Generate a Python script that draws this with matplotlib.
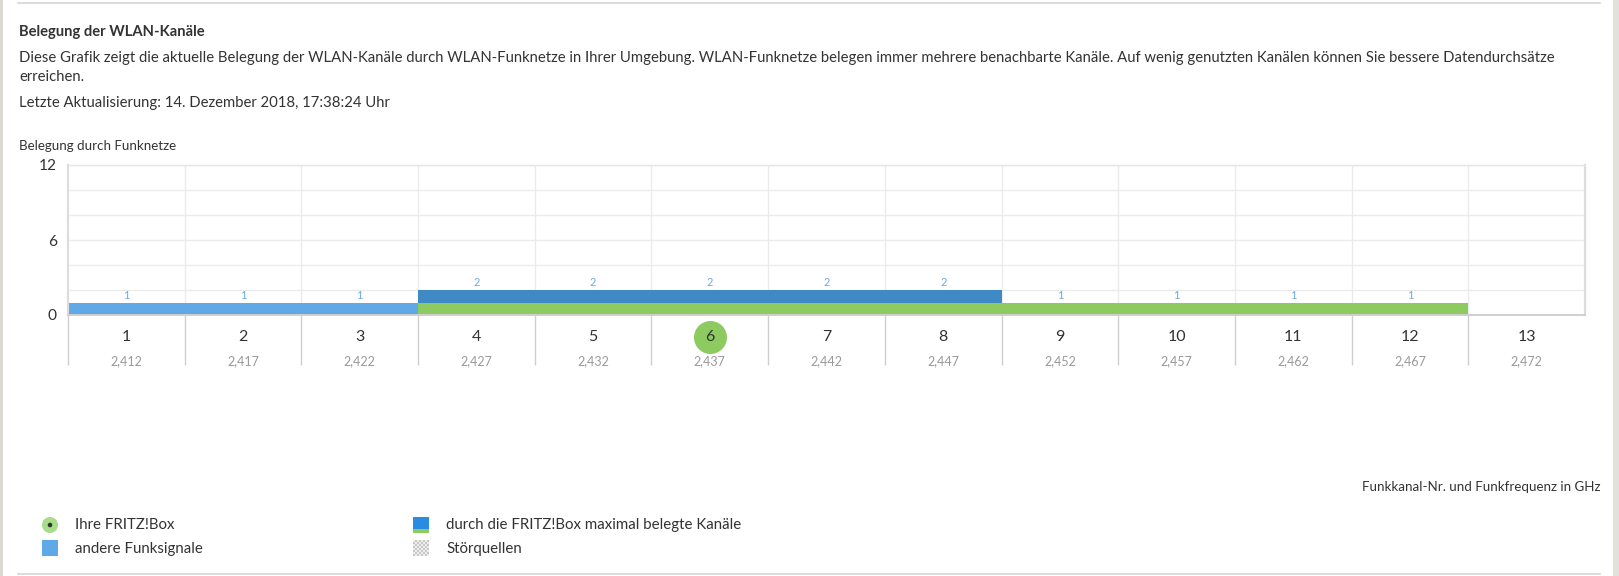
import matplotlib
matplotlib.use("Agg")
import matplotlib.pyplot as plt
from matplotlib.patches import Rectangle, Circle
from matplotlib.lines import Line2D
from matplotlib.transforms import Affine2D, ScaledTranslation
import numpy as np

# ---------------- data ----------------
channels = [1, 2, 3, 4, 5, 6, 7, 8, 9, 10, 11, 12, 13]
frequencies = ["2,412", "2,417", "2,422", "2,427", "2,432", "2,437", "2,442",
               "2,447", "2,452", "2,457", "2,462", "2,467", "2,472"]
fritzbox_channels = [0, 0, 0, 1, 1, 1, 1, 1, 1, 1, 1, 1, 0]   # occupied by own FRITZ!Box
other_networks = [1, 1, 1, 1, 1, 1, 1, 1, 0, 0, 0, 0, 0]      # other radio signals
own_channel = 6
y_ticks = [0, 6, 12]

title = "Belegung der WLAN-Kanäle"
desc1 = ("Diese Grafik zeigt die aktuelle Belegung der WLAN-Kanäle durch WLAN-Funknetze in Ihrer Umgebung. "
         "WLAN-Funknetze belegen immer mehrere benachbarte Kanäle. Auf wenig genutzten Kanälen können Sie bessere Datendurchsätze")
desc2 = "erreichen."
updated = "Letzte Aktualisierung: 14. Dezember 2018, 17:38:24 Uhr"
ylabel = "Belegung durch Funknetze"
xlabel = "Funkkanal-Nr. und Funkfrequenz in GHz"
legend_items = ["Ihre FRITZ!Box", "andere Funksignale",
                "durch die FRITZ!Box maximal belegte Kanäle", "Störquellen"]

# ---------------- style ----------------
W, H = 1619, 576
FONT = "Lato"
plt.rcParams["font.family"] = [FONT, "DejaVu Sans"]
TXT = "#333333"
GREEN = "#8dcb60"
LIGHT_BLUE = "#5ea9e6"
DARK_BLUE = "#3f8ac5"
LABEL_BLUE = "#6aaae4"
GRID = "#ebebeb"

fig = plt.figure(figsize=(W / 100, H / 100), dpi=100)
fig.patch.set_facecolor("white")
pix = Affine2D().scale(1.0 / W, 1.0 / H) + fig.transFigure  # pixel coords, origin bottom-left


def px2pt(px):
    return px * 72 / 100


def place(x, y, s, size_px, **kw):
    return fig.text(x / W, 1 - y / H, s, fontsize=px2pt(size_px), va="center", **kw)


def fit(texts, ref_text, target_w):
    fig.canvas.draw()
    r = fig.canvas.get_renderer()
    w = ref_text.get_window_extent(r).width
    s = ref_text.get_fontsize() * target_w / w
    for t in texts:
        t.set_fontsize(s)


# frame decorations
fig.add_artist(Rectangle((0, 0), 3, H, transform=pix, color="#dcd9d3", lw=0))
fig.add_artist(Rectangle((1613, 0), 6, H, transform=pix, color="#e3e1dc", lw=0))
fig.add_artist(Line2D([18, 1600], [H - 3, H - 3], transform=pix, color="#d6d6d6", lw=1.2))
fig.add_artist(Line2D([18, 1600], [H - 574, H - 574], transform=pix, color="#d6d6d6", lw=1.2))

# header texts
t_title = place(19, 32, title, 14.5, color=TXT, fontweight="bold")
t_d1 = place(19, 58, desc1, 14.5, color=TXT)
t_d2 = place(19, 77, desc2, 14.5, color=TXT)
t_up = place(19, 103, updated, 14.5, color=TXT)
t_yl = place(19, 146, ylabel, 12.5, color=TXT)
t_xl = place(1600, 487, xlabel, 12.5, color=TXT, ha="right")

# ---------------- chart ----------------
ax = fig.add_axes([68 / W, 1 - 315 / H, (1585 - 68) / W, 150 / H])
ax.set_xlim(0.5, 13.5)
ax.set_ylim(0, 12)
ax.set_axisbelow(True)

ch = np.array(channels)
fb = np.array(fritzbox_channels)
ot = np.array(other_networks)
ax.bar(ch, fb, width=1.0, color=GREEN, lw=0)
other_colors = [DARK_BLUE if f > 0 else LIGHT_BLUE for f in fb]
ax.bar(ch, ot, bottom=fb, width=1.0, color=other_colors, lw=0)

totals = fb + ot
for c, tot in zip(ch, totals):
    if tot > 0:
        ax.annotate(str(tot), (c, tot), xytext=(0, 7), textcoords="offset pixels",
                    ha="center", va="center", fontsize=px2pt(11), color=LABEL_BLUE)

# grid
ax.set_yticks(y_ticks)
ax.set_yticklabels([str(v) for v in y_ticks], fontsize=px2pt(15.5), color=TXT)
ax.set_yticks([2, 4, 8, 10], minor=True)
ax.yaxis.grid(True, which="both", color=GRID, lw=1.0)
ax.set_xticks(np.arange(1.5, 13.5, 1.0))
ax.set_xticklabels([])
ax.xaxis.grid(True, color=GRID, lw=1.0)
ax.tick_params(axis="both", which="both", length=0)
ax.tick_params(axis="y", pad=8)

for side in ["left", "right"]:
    ax.spines[side].set_color("#dcdcdc")
    ax.spines[side].set_linewidth(1.6)
ax.spines["top"].set_color("#e6e6e6")
ax.spines["top"].set_linewidth(1.0)
ax.spines["bottom"].set_color("#cfcfcf")
ax.spines["bottom"].set_linewidth(1.4)

# separators below the axis
ax.vlines(np.arange(0.5, 13.0, 1.0), -4.0, 0, colors="#cfcfcf", lw=1.0, clip_on=False)

# own channel marker
ax.plot([own_channel], [0], marker="o", markersize=px2pt(33), color=GREEN, mec="none",
        clip_on=False, transform=ax.transData + ScaledTranslation(0, -22 / 100, fig.dpi_scale_trans),
        zorder=3)

for c, f in zip(ch, frequencies):
    ax.annotate(str(c), (c, 0), xytext=(0, -22), textcoords="offset pixels",
                ha="center", va="center", fontsize=px2pt(16), color=TXT,
                annotation_clip=False, zorder=4)
    ax.annotate(f, (c, 0), xytext=(0, -46), textcoords="offset pixels",
                ha="center", va="center", fontsize=px2pt(12.5), color="#9a9a9a",
                annotation_clip=False)

# ---------------- legend ----------------
fig.add_artist(Circle((50, H - 525), 8, transform=pix, color="#a7dc8a", lw=0))
fig.add_artist(Circle((50, H - 525), 2.3, transform=pix, color="#333333", lw=0))
fig.add_artist(Rectangle((42, H - 556), 16, 16, transform=pix, color=LIGHT_BLUE, lw=0))
fig.add_artist(Rectangle((413, H - 529), 16, 12, transform=pix, color="#2a8ce0", lw=0))
fig.add_artist(Rectangle((413, H - 533), 16, 4, transform=pix, color=GREEN, lw=0))
for i in range(8):
    for j in range(8):
        col = "#c8c8c8" if (i + j) % 2 == 0 else "#ededed"
        fig.add_artist(Rectangle((413 + 2 * i, H - 556 + 2 * j), 2, 2, transform=pix, color=col, lw=0))

lg = [place(75, 525, legend_items[0], 14.5, color=TXT),
      place(75, 549, legend_items[1], 14.5, color=TXT),
      place(446, 525, legend_items[2], 14.5, color=TXT),
      place(446, 549, legend_items[3], 14.5, color=TXT)]

# consistent font sizes fitted to reference widths
fit([t_d1, t_d2, t_up], t_d1, 1541)
fit([t_title], t_title, 186)
fit([t_yl, t_xl], t_xl, 238)
fit(lg, lg[2], 296)

fig.savefig("out.png", dpi=100, facecolor="white")
